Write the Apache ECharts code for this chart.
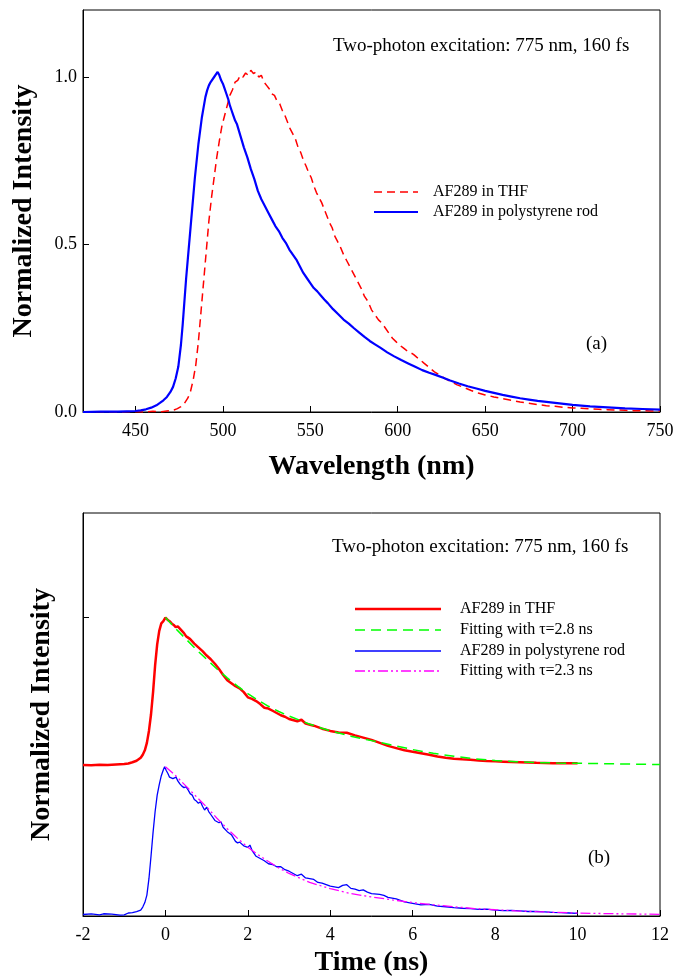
<!DOCTYPE html>
<html>
<head>
<meta charset="utf-8">
<script src="https://cdn.jsdelivr.net/npm/echarts@6/dist/echarts.min.js"></script>
<style>html,body{margin:0;padding:0;background:#fff}#c{width:673px;height:976px}</style>
</head>
<body>
<div id="c"></div>
<script>
// ---------- Panel (a): emission spectra ----------
const wlTicks = [450, 500, 550, 600, 650, 700, 750];
const thfWl = [420,430,440,450,455,460,465,468,470,472,474,476,478,480,481.5,483,484.5,486,487.5,489,490.5,492,493.5,495,496.5,498,499.5,501,502.5,504,505.5,507,508.5,510,511.5,513,514.5,516,517.5,519,520.5,522,523.5,525,526.5,528,529.5,531,532.5,534,535.5,537,538.5,540,541.5,543,544.5,546,547.5,549,550.5,552,553.5,555,556.5,558,559.5,561,562.5,564,565.5,567,569,571,573,575,577,579,581,583,585,587,589,591,593,595,597,599,601,603,605,607,609,611,613,615,618,621,624,627,630,634,638,642,646,650,655,660,665,670,675,680,685,690,695,700,705,710,715,720,725,730,735,740,745,750];
const thfInt = [0.0,0.001,0.0,0.001,0.0,0.002,0.001,0.003,0.004,0.006,0.01,0.016,0.026,0.042,0.062,0.095,0.14,0.21,0.30,0.39,0.48,0.57,0.64,0.70,0.76,0.81,0.855,0.885,0.915,0.945,0.962,0.985,0.99,1.005,1.0,1.012,1.005,1.02,1.01,1.015,1.0,1.005,0.985,0.975,0.965,0.95,0.945,0.928,0.92,0.9,0.885,0.865,0.845,0.83,0.815,0.79,0.775,0.752,0.735,0.715,0.7,0.675,0.655,0.64,0.625,0.605,0.585,0.565,0.55,0.525,0.51,0.495,0.47,0.45,0.43,0.41,0.39,0.37,0.345,0.33,0.305,0.29,0.275,0.265,0.25,0.235,0.22,0.21,0.2,0.192,0.184,0.178,0.172,0.163,0.155,0.146,0.133,0.12,0.11,0.1,0.092,0.081,0.073,0.064,0.057,0.051,0.045,0.04,0.035,0.03,0.026,0.022,0.019,0.017,0.014,0.012,0.011,0.009,0.008,0.007,0.006,0.005,0.004,0.004,0.003,0.003];
const psWl = [420,430,440,445,450,453,456,459,462,464,466,468,470,471.5,473,474.5,476,477,478,479,480,481,482,483,484,485,486,487,488,489,490,491,492,493,494,495,496,497,498,499,500,501,502,503,504,505,506,507,508,510,512,514,516,518,520,522,524,526,528,530,532,534,536,538,540,542,544,546,548,550,552,554,556,558,560,563,566,569,572,575,578,581,584,587,590,594,598,602,606,610,614,618,622,626,630,635,640,645,650,655,660,665,670,675,680,685,690,695,700,710,720,730,740,750];
const psInt = [0.0,0.001,0.001,0.002,0.003,0.005,0.008,0.013,0.02,0.027,0.035,0.045,0.06,0.075,0.1,0.135,0.2,0.26,0.33,0.4,0.46,0.52,0.58,0.64,0.7,0.75,0.8,0.84,0.88,0.91,0.94,0.96,0.975,0.985,0.99,1.0,0.995,1.015,1.005,0.99,0.98,0.965,0.95,0.935,0.915,0.9,0.885,0.87,0.86,0.825,0.79,0.76,0.725,0.695,0.66,0.635,0.615,0.595,0.575,0.555,0.54,0.52,0.505,0.485,0.47,0.455,0.435,0.415,0.4,0.385,0.37,0.36,0.348,0.336,0.325,0.307,0.292,0.276,0.264,0.25,0.237,0.224,0.212,0.202,0.192,0.178,0.166,0.155,0.145,0.135,0.125,0.117,0.11,0.102,0.094,0.085,0.077,0.07,0.063,0.057,0.051,0.046,0.041,0.037,0.033,0.03,0.027,0.024,0.021,0.017,0.014,0.011,0.009,0.007];

// ---------- Panel (b): time-resolved decays (THF trace offset by +1) ----------
const timeTicks = [-2, 0, 2, 4, 6, 8, 10, 12];
const thfT = [-2,-1.8,-1.6,-1.4,-1.2,-1.0,-0.9,-0.8,-0.7,-0.6,-0.55,-0.5,-0.45,-0.4,-0.35,-0.3,-0.25,-0.2,-0.15,-0.1,-0.05,0,0.05,0.1,0.15,0.2,0.25,0.3,0.35,0.4,0.45,0.5,0.55,0.6,0.7,0.8,0.9,1.0,1.1,1.2,1.3,1.4,1.5,1.6,1.7,1.8,1.9,2.0,2.1,2.2,2.3,2.4,2.5,2.6,2.7,2.8,2.9,3.0,3.2,3.3,3.4,3.6,3.8,4.0,4.2,4.4,4.6,4.8,5.0,5.2,5.4,5.6,5.8,6.0,6.2,6.4,6.6,6.8,7.0,7.2,7.4,7.6,7.8,8.0,8.2,8.4,8.6,8.8,9.0,9.2,9.4,9.6,9.8,10.0];
const thfDecay = [1.012,1.01,1.013,1.012,1.015,1.018,1.022,1.03,1.04,1.06,1.08,1.11,1.16,1.24,1.35,1.5,1.68,1.82,1.91,1.96,1.975,2.0,1.985,1.975,1.96,1.95,1.935,1.94,1.925,1.91,1.895,1.875,1.865,1.855,1.825,1.8,1.775,1.745,1.72,1.69,1.655,1.615,1.58,1.56,1.54,1.525,1.5,1.465,1.455,1.44,1.42,1.395,1.39,1.375,1.36,1.345,1.335,1.32,1.305,1.315,1.29,1.275,1.255,1.24,1.23,1.228,1.21,1.195,1.18,1.16,1.14,1.125,1.11,1.1,1.09,1.08,1.068,1.06,1.054,1.05,1.047,1.042,1.038,1.036,1.034,1.032,1.03,1.028,1.026,1.025,1.024,1.024,1.023,1.023];
const fitThfT = [0,0.25,0.5,0.75,1.0,1.25,1.5,1.75,2.0,2.25,2.5,2.75,3.0,3.5,4.0,4.5,5.0,5.5,6.0,6.5,7.0,7.5,8.0,8.5,9.0,9.5,10.0,10.5,11.0,11.5,12.0];
const fitThf = [2.0,1.925,1.855,1.785,1.72,1.655,1.595,1.54,1.49,1.445,1.405,1.37,1.34,1.285,1.24,1.205,1.175,1.145,1.115,1.09,1.07,1.053,1.042,1.034,1.028,1.025,1.023,1.021,1.019,1.017,1.015];
const psT = [-2,-1.8,-1.6,-1.5,-1.3,-1.1,-1.0,-0.9,-0.8,-0.7,-0.6,-0.55,-0.5,-0.45,-0.4,-0.35,-0.3,-0.25,-0.2,-0.15,-0.1,-0.05,-0.02,0.02,0.06,0.1,0.14,0.18,0.22,0.26,0.3,0.35,0.4,0.45,0.5,0.55,0.6,0.65,0.7,0.75,0.8,0.85,0.9,0.95,1.0,1.05,1.1,1.2,1.3,1.35,1.4,1.5,1.6,1.7,1.75,1.8,1.9,2.0,2.05,2.1,2.2,2.3,2.4,2.5,2.6,2.7,2.8,2.9,3.0,3.1,3.2,3.3,3.4,3.5,3.6,3.7,3.8,3.9,4.0,4.1,4.2,4.3,4.4,4.5,4.6,4.7,4.8,4.9,5.0,5.2,5.3,5.4,5.6,5.8,6.0,6.2,6.4,6.6,6.8,7.0,7.2,7.4,7.6,7.8,8.0,8.2,8.4,8.6,8.8,9.0,9.2,9.4,9.6,9.8,10.0];
const psDecay = [0.01,0.014,0.008,0.015,0.012,0.006,0.008,0.02,0.022,0.03,0.04,0.06,0.09,0.14,0.25,0.4,0.56,0.7,0.81,0.88,0.94,0.98,1.0,0.975,0.955,0.93,0.935,0.92,0.915,0.93,0.905,0.885,0.87,0.86,0.865,0.845,0.82,0.81,0.78,0.77,0.755,0.765,0.735,0.71,0.73,0.7,0.68,0.64,0.625,0.63,0.595,0.565,0.545,0.5,0.49,0.495,0.47,0.46,0.475,0.44,0.4,0.385,0.37,0.35,0.345,0.33,0.33,0.31,0.3,0.285,0.27,0.28,0.255,0.25,0.245,0.225,0.22,0.21,0.2,0.195,0.19,0.205,0.21,0.185,0.18,0.17,0.175,0.16,0.15,0.145,0.138,0.125,0.115,0.095,0.085,0.075,0.078,0.066,0.062,0.056,0.052,0.05,0.044,0.046,0.04,0.036,0.038,0.034,0.03,0.03,0.027,0.024,0.022,0.02,0.018];
const fitPsT = [0,0.25,0.5,0.75,1.0,1.25,1.5,1.75,2.0,2.25,2.5,2.75,3.0,3.5,4.0,4.5,5.0,5.5,6.0,6.5,7.0,7.5,8.0,8.5,9.0,9.5,10.0,10.5,11.0,11.5,12.0];
const fitPs = [1.0,0.94,0.87,0.8,0.73,0.655,0.585,0.52,0.46,0.41,0.365,0.322,0.285,0.225,0.183,0.15,0.128,0.108,0.09,0.075,0.062,0.05,0.042,0.035,0.029,0.024,0.02,0.017,0.015,0.013,0.011];

const seriesNamesA = ['AF289 in THF', 'AF289 in polystyrene rod'];
const seriesNamesB = ['AF289 in THF', 'Fitting with \u03c4=2.8 ns', 'AF289 in polystyrene rod', 'Fitting with \u03c4=2.3 ns'];
const annotation = 'Two-photon excitation: 775 nm, 160 fs';

const zip = (xs, ys) => xs.map((x, i) => [x, ys[i]]);
const SERIF = '"Liberation Serif", "Times New Roman", serif';
const RED = '#ff0000', BLUE = '#0000ff', GREEN = '#00ff00', MAGENTA = '#ff00ff';
const DOTDASH = [10, 3, 2, 3, 2, 3];

const axisCommon = {
  axisLine: { show: true, onZero: false, lineStyle: { color: '#000', width: 1 } },
  axisTick: { inside: true, length: 6, lineStyle: { color: '#000' } },
  splitLine: { show: false },
  axisLabel: { color: '#000', fontFamily: SERIF, fontSize: 18 },
  nameTextStyle: { color: '#000', fontFamily: SERIF, fontSize: 28, fontWeight: 'bold' },
  nameLocation: 'middle'
};

const chart = echarts.init(document.getElementById('c'), null, { renderer: 'canvas' });

function legendLine(x1, x2, y, color, width, dash) {
  return { type: 'line', shape: { x1: x1, y1: y, x2: x2, y2: y }, style: { stroke: color, lineWidth: width, lineDash: dash || null }, z: 100 };
}
function label(x, y, txt, size) {
  return { type: 'text', x: x, y: y, style: { text: txt, fontFamily: SERIF, fontSize: size, fill: '#000', verticalAlign: 'middle', align: 'left' }, z: 100 };
}

chart.setOption({
  animation: false,
  backgroundColor: '#fff',
  grid: [
    { left: 83, right: 13, top: 10, height: 402, outerBoundsMode: 'none', containLabel: false, show: true, borderColor: '#000', borderWidth: 1, backgroundColor: 'transparent' },
    { left: 83, right: 13, top: 513, height: 403, outerBoundsMode: 'none', containLabel: false, show: true, borderColor: '#000', borderWidth: 1, backgroundColor: 'transparent' }
  ],
  xAxis: [
    Object.assign({}, axisCommon, {
      gridIndex: 0, type: 'value', min: 420, max: 750,
      name: 'Wavelength (nm)', nameGap: 41,
      axisTick: Object.assign({}, axisCommon.axisTick, { customValues: wlTicks }),
      axisLabel: Object.assign({}, axisCommon.axisLabel, { customValues: wlTicks, margin: 10 })
    }),
    Object.assign({}, axisCommon, {
      gridIndex: 1, type: 'value', min: -2, max: 12, interval: 2,
      name: 'Time (ns)', nameGap: 33,
      axisTick: Object.assign({}, axisCommon.axisTick, { customValues: timeTicks }),
      axisLabel: Object.assign({}, axisCommon.axisLabel, { customValues: timeTicks, margin: 10 })
    })
  ],
  yAxis: [
    Object.assign({}, axisCommon, {
      gridIndex: 0, type: 'value', min: 0, max: 1.2, interval: 0.5,
      name: 'Normalized Intensity', nameGap: 45,
      axisLabel: Object.assign({}, axisCommon.axisLabel, { margin: 6, showMaxLabel: false, formatter: v => v.toFixed(1) })
    }),
    Object.assign({}, axisCommon, {
      gridIndex: 1, type: 'value', min: 0, max: 2.7, interval: 2,
      name: 'Normalized Intensity', nameGap: 27,
      axisTick: Object.assign({}, axisCommon.axisTick, { customValues: [2] }),
      axisLabel: { show: false }
    })
  ],
  series: [
    { name: seriesNamesA[0], type: 'line', xAxisIndex: 0, yAxisIndex: 0, data: zip(thfWl, thfInt), showSymbol: false, symbol: 'none', lineStyle: { color: RED, width: 1.5, type: [8, 5] }, z: 3 },
    { name: seriesNamesA[1], type: 'line', xAxisIndex: 0, yAxisIndex: 0, data: zip(psWl, psInt), showSymbol: false, symbol: 'none', lineStyle: { color: BLUE, width: 2.2 }, z: 4 },
    { name: seriesNamesB[0], type: 'line', xAxisIndex: 1, yAxisIndex: 1, data: zip(thfT, thfDecay), showSymbol: false, symbol: 'none', lineStyle: { color: RED, width: 2.5 }, z: 3 },
    { name: seriesNamesB[1], type: 'line', xAxisIndex: 1, yAxisIndex: 1, data: zip(fitThfT, fitThf), showSymbol: false, symbol: 'none', lineStyle: { color: GREEN, width: 1.5, type: [10, 6] }, z: 4 },
    { name: seriesNamesB[2], type: 'line', xAxisIndex: 1, yAxisIndex: 1, data: zip(psT, psDecay), showSymbol: false, symbol: 'none', lineStyle: { color: BLUE, width: 1.3 }, z: 3 },
    { name: seriesNamesB[3], type: 'line', xAxisIndex: 1, yAxisIndex: 1, data: zip(fitPsT, fitPs), showSymbol: false, symbol: 'none', lineStyle: { color: MAGENTA, width: 1.3, type: DOTDASH }, z: 4 }
  ],
  graphic: [
    label(333, 46, annotation, 19),
    legendLine(374, 418, 192, RED, 1.5, [8, 5]),
    legendLine(374, 418, 212, BLUE, 2.2),
    label(433, 192, seriesNamesA[0], 16),
    label(433, 212, seriesNamesA[1], 16),
    label(586, 344, '(a)', 19),

    label(332, 547, annotation, 19),
    legendLine(355, 441, 609, RED, 2.5),
    legendLine(355, 441, 630, GREEN, 1.5, [10, 6]),
    legendLine(355, 441, 651, BLUE, 1.3),
    legendLine(355, 441, 671, MAGENTA, 1.3, DOTDASH),
    label(460, 609, seriesNamesB[0], 16),
    label(460, 630, seriesNamesB[1], 16),
    label(460, 651, seriesNamesB[2], 16),
    label(460, 671, seriesNamesB[3], 16),
    label(588, 858, '(b)', 19)
  ]
});
</script>
</body>
</html>
